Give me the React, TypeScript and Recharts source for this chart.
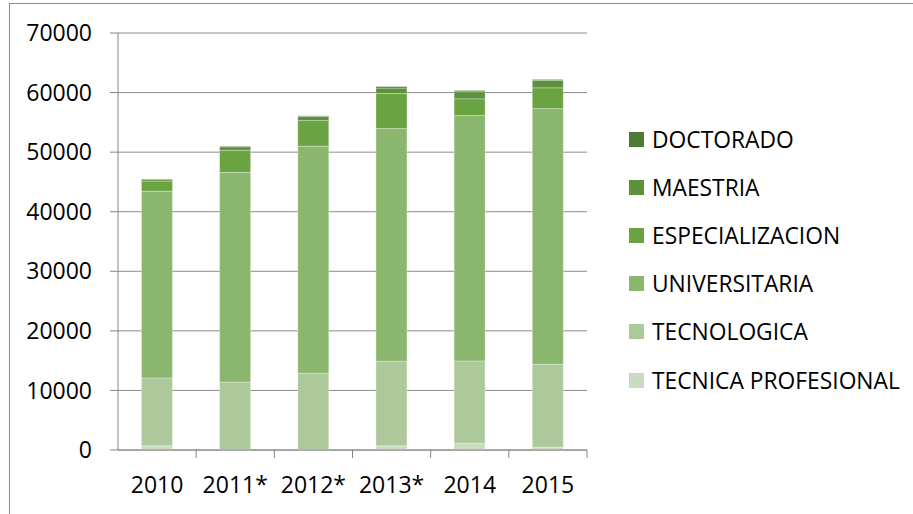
import React from "react";
import { BarChart, Bar, XAxis, YAxis, CartesianGrid } from "recharts";

const years = ["2010", "2011*", "2012*", "2013*", "2014", "2015"];
const tecnicaProfesional = [700, 100, 100, 700, 1150, 500];
const tecnologica = [11400, 11300, 12800, 14200, 13800, 13900];
const universitaria = [31350, 35200, 38100, 39050, 41200, 42900];
const especializacion = [1700, 3700, 4300, 5900, 2800, 3500];
const maestria = [250, 600, 700, 900, 1200, 1250];
const doctorado = [100, 100, 100, 250, 200, 150];
const yTicks = [0, 10000, 20000, 30000, 40000, 50000, 60000, 70000];

const series = [
  { key: "tp", name: "TECNICA PROFESIONAL", color: "#c9dcbf", values: tecnicaProfesional },
  { key: "tec", name: "TECNOLOGICA", color: "#adc99c", values: tecnologica },
  { key: "uni", name: "UNIVERSITARIA", color: "#8ab76d", values: universitaria },
  { key: "esp", name: "ESPECIALIZACION", color: "#6aa342", values: especializacion },
  { key: "mae", name: "MAESTRIA", color: "#5e913c", values: maestria },
  { key: "doc", name: "DOCTORADO", color: "#4e7b34", values: doctorado },
];

const data = years.map((year, i) => {
  const row: any = { year };
  series.forEach((s) => (row[s.key] = s.values[i]));
  return row;
});

const FONT = "'Open Sans', sans-serif";
const W = 913;
const H = 514;
const LEFT = 118;
const RIGHT = 326;
const BAND = (W - LEFT - RIGHT) / years.length;

function XTick(props: any) {
  const { x, y, payload } = props;
  return (
    <g>
      <line x1={x + BAND / 2} x2={x + BAND / 2} y1={y - 8} y2={y} stroke="#868686" />
      <text x={x} y={y + 35} textAnchor="middle" fontSize={23} fill="#000" fontFamily={FONT}>
        {payload.value}
      </text>
    </g>
  );
}

export default function App() {
  return (
    <div style={{ position: "absolute", left: 0, top: 0, width: W, height: H, background: "#fff" }}>
      <div
        style={{
          position: "absolute",
          left: 9,
          top: 3,
          width: W - 9,
          height: H - 3,
          borderLeft: "1px solid #8c8c8c",
          borderTop: "1px solid #8c8c8c",
        }}
      />
      <BarChart
        width={W}
        height={H}
        data={data}
        margin={{ top: 33, right: RIGHT, left: 0, bottom: 0 }}
        barCategoryGap="30%"
      >
        <CartesianGrid vertical={false} stroke="#8c8c8c" />
        <XAxis
          dataKey="year"
          height={64}
          stroke="#868686"
          tickLine={false}
          tickSize={8}
          tickMargin={0}
          tick={<XTick />}
          interval={0}
        />
        <YAxis
          width={LEFT}
          domain={[0, 70000]}
          ticks={yTicks}
          stroke="#868686"
          tickSize={8}
          tickMargin={18}
          tick={{ fill: "#000", fontSize: 23, fontFamily: FONT }}
          interval={0}
        />
        {series.map((s) => (
          <Bar
            key={s.key}
            dataKey={s.key}
            name={s.name}
            stackId="a"
            fill={s.color}
            stroke="#ffffff"
            strokeOpacity={0.5}
            strokeWidth={0.6}
            isAnimationActive={false}
          />
        ))}
      </BarChart>
      <div style={{ position: "absolute", left: 629, top: 115, fontFamily: FONT, fontSize: 22.8 }}>
        {[...series].reverse().map((s) => (
          <div key={s.key} style={{ display: "flex", alignItems: "center", height: 48.2 }}>
            <span style={{ width: 15, height: 15, background: s.color, marginRight: 8, display: "inline-block" }} />
            <span style={{ color: "#000" }}>{s.name}</span>
          </div>
        ))}
      </div>
    </div>
  );
}
